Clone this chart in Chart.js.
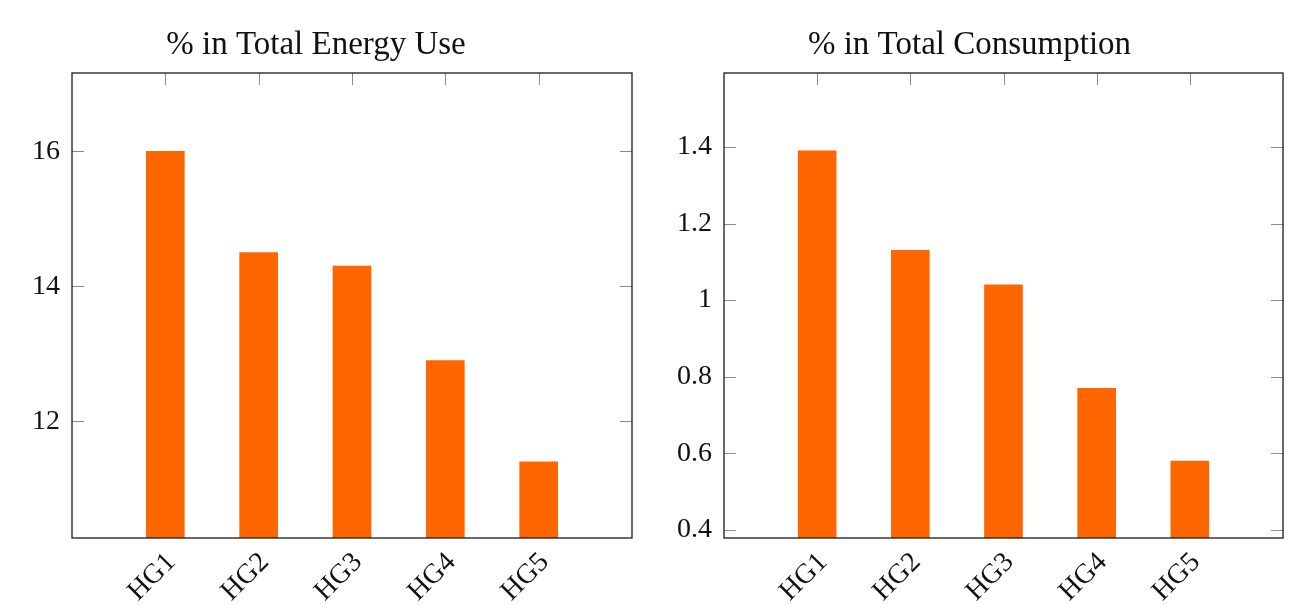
<!DOCTYPE html>
<html>
<head>
<meta charset="utf-8">
<script src="https://cdn.jsdelivr.net/npm/chart.js@4"></script>
<style>
  html, body { margin: 0; padding: 0; background: #fff; overflow: hidden; width: 1312px; height: 605px; }
  canvas { position: absolute; top: 0; }
  #energy { left: 0; }
  #consumption { left: 656px; }
</style>
</head>
<body>
<canvas id="energy" width="704" height="605"></canvas>
<canvas id="consumption" width="695" height="605"></canvas>
<script>
// Household groups and their shares
const categories = ['HG1', 'HG2', 'HG3', 'HG4', 'HG5'];
const energyShare = [16.0, 14.5, 14.3, 12.9, 11.4];
const consumptionShare = [1.39, 1.13, 1.04, 0.77, 0.58];

// Value-axis ticks and limits
const energyTicks = [12, 14, 16];
const consumptionTicks = [0.4, 0.6, 0.8, 1.0, 1.2, 1.4];
const energyRange = [10.27, 17.16];
const consumptionRange = [0.379, 1.593];

const FONT = "'Liberation Serif', 'Times New Roman', serif";
const BAR_COLOR = '#FF6600';

// Box frame with short inward tick marks on all sides
const framePlugin = {
  id: 'frame',
  afterDatasetsDraw(chart) {
    const { ctx, chartArea: a, scales: { x, y } } = chart;
    const seg = (x1, y1, x2, y2) => { ctx.beginPath(); ctx.moveTo(x1, y1); ctx.lineTo(x2, y2); ctx.stroke(); };
    ctx.save();
    ctx.strokeStyle = '#8c8c8c';
    ctx.lineWidth = 1;
    y.ticks.forEach(t => {
      const py = Math.round(y.getPixelForValue(t.value)) + 0.5;
      seg(a.left, py, a.left + 12, py);
      seg(a.right - 12, py, a.right, py);
    });
    categories.forEach((c, i) => {
      const px = Math.round(x.getPixelForValue(i + 1)) + 0.5;
      seg(px, a.top, px, a.top + 12);
    });
    ctx.strokeStyle = '#1a1a1a';
    ctx.lineWidth = 1.3;
    ctx.strokeRect(a.left, a.top, a.right - a.left, a.bottom - a.top);
    ctx.restore();
  }
};

function makeChart(id, title, values, ticks, range, axisWidth, rightPad) {
  return new Chart(document.getElementById(id), {
    type: 'bar',
    data: {
      labels: ['', ...categories, ''],
      datasets: [{
        data: [null, ...values, null],
        backgroundColor: BAR_COLOR,
        borderWidth: 0,
        barThickness: 38
      }]
    },
    options: {
      responsive: false,
      animation: false,
      layout: { padding: { left: 0, right: rightPad, top: 0, bottom: 0 } },
      plugins: {
        legend: { display: false },
        tooltip: { enabled: false },
        title: {
          display: true,
          text: title,
          color: '#111',
          font: { family: FONT, size: 33, weight: 'normal' },
          padding: { top: 26, bottom: 7.4 }
        }
      },
      scales: {
        x: {
          offset: false,
          grid: { display: false, drawTicks: false },
          border: { display: false },
          ticks: {
            autoSkip: false,
            minRotation: 45,
            maxRotation: 45,
            color: '#111',
            font: { family: FONT, size: 28 },
            padding: 8,
            labelOffset: 6
          },
          afterFit(s) { s.height = 67; }
        },
        y: {
          min: range[0],
          max: range[1],
          grid: { display: false, drawTicks: false },
          border: { display: false },
          ticks: {
            color: '#111',
            font: { family: FONT, size: 28 },
            padding: 12,
            callback: v => String(Number(v.toFixed(2)))
          },
          afterBuildTicks(s) { s.ticks = ticks.map(v => ({ value: v })); },
          afterFit(s) { s.width = axisWidth; }
        }
      }
    },
    plugins: [framePlugin]
  });
}

makeChart('energy', '% in Total Energy Use', energyShare, energyTicks, energyRange, 72, 72);
makeChart('consumption', '% in Total Consumption', consumptionShare, consumptionTicks, consumptionRange, 68, 68);
</script>
</body>
</html>
